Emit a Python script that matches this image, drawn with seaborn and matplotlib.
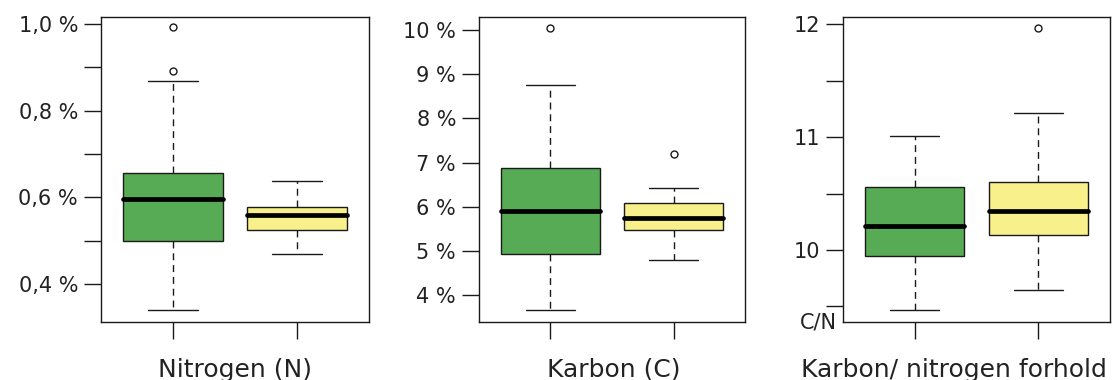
import numpy as np
import pandas as pd
import matplotlib
matplotlib.use("Agg")
import matplotlib.pyplot as plt
import seaborn as sns

# ---- data ----
groups = ["Gruppe 1", "Gruppe 2"]
colors = ["#57ab55", "#f8f08a"]

# five-number summaries: lower whisker, Q1, median, Q3, upper whisker
n_green = [0.340, 0.500, 0.595, 0.656, 0.868]
n_yellow = [0.469, 0.525, 0.560, 0.578, 0.638]
n_green_out = [0.891, 0.992]
n_yellow_out = []

c_green = [3.66, 4.93, 5.91, 6.89, 8.76]
c_yellow = [4.81, 5.48, 5.74, 6.08, 6.42]
c_green_out = [10.05]
c_yellow_out = [7.20]

cn_green = [9.465, 9.947, 10.213, 10.560, 11.010]
cn_yellow = [9.648, 10.130, 10.350, 10.600, 11.210]
cn_green_out = []
cn_yellow_out = [11.97]

n_ticks = [0.4, 0.5, 0.6, 0.7, 0.8, 0.9, 1.0]
n_ticklabels = ["0,4 %", "", "0,6 %", "", "0,8 %", "", "1,0 %"]
c_ticks = [4, 5, 6, 7, 8, 9, 10]
c_ticklabels = ["4 %", "5 %", "6 %", "7 %", "8 %", "9 %", "10 %"]
cn_ticks = [9.5, 10, 10.5, 11, 11.5, 12]
cn_ticklabels = ["", "10", "", "11", "", "12"]

titles = ["Nitrogen (N)", "Karbon (C)", "Karbon/ nitrogen forhold"]

# ---- styling ----
sns.set_theme(style="ticks")
plt.rcParams["font.family"] = ["DejaVu Sans"]

W, H = 1113, 380
fig = plt.figure(figsize=(W / 100, H / 100), dpi=100)
fig.patch.set_facecolor("white")

panels = [
    dict(px=(101, 369), ylim=(0.312, 1.016), g=n_green, y=n_yellow,
         go=n_green_out, yo=n_yellow_out, ticks=n_ticks, labels=n_ticklabels,
         lab_x=235),
    dict(px=(479, 745), ylim=(3.40, 10.29), g=c_green, y=c_yellow,
         go=c_green_out, yo=c_yellow_out, ticks=c_ticks, labels=c_ticklabels,
         lab_x=614),
    dict(px=(843, 1110), ylim=(9.362, 12.065), g=cn_green, y=cn_yellow,
         go=cn_green_out, yo=cn_yellow_out, ticks=cn_ticks, labels=cn_ticklabels,
         lab_x=954),
]

top_px, bot_px = 17, 322
for i, p in enumerate(panels):
    x0, x1 = p["px"]
    ax = fig.add_axes([x0 / W, 1 - bot_px / H, (x1 - x0) / W, (bot_px - top_px) / H])
    df = pd.DataFrame({
        "group": [groups[0]] * len(p["g"]) + [groups[1]] * len(p["y"]),
        "value": p["g"] + p["y"],
    })
    sns.boxplot(
        data=df, x="group", y="value", hue="group", order=groups, hue_order=groups,
        palette=colors, saturation=1, width=0.8, whis=(0, 100), showfliers=False,
        linecolor="#1a1a1a", linewidth=1.0, legend=False, ax=ax,
        whiskerprops=dict(linestyle=(0, (5, 3.5))),
        medianprops=dict(linewidth=3.4, color="black", solid_capstyle="round"),
    )
    odf = pd.DataFrame({
        "group": [groups[0]] * len(p["go"]) + [groups[1]] * len(p["yo"]),
        "value": p["go"] + p["yo"],
    })
    if len(odf):
        sns.stripplot(data=odf, x="group", y="value", order=groups, jitter=False,
                      color="white", edgecolor="#1a1a1a", linewidth=1.0, size=5.0,
                      ax=ax, zorder=5)
    ax.set_xlim(-0.58, 1.58)
    ax.set_ylim(*p["ylim"])
    ax.set_yticks(p["ticks"])
    ax.set_yticklabels(p["labels"])
    ax.set_xticks([0, 1])
    ax.set_xticklabels(["", ""])
    ax.set_ylabel("")
    ax.tick_params(axis="both", direction="out", length=12.5, width=1.0,
                   color="#1a1a1a", labelsize=15, pad=4, labelcolor="#222222",
                   bottom=True, left=True)
    for s in ax.spines.values():
        s.set_visible(True)
        s.set_color("#1a1a1a")
        s.set_linewidth(1.0)
    ax.set_xlabel(titles[i], fontsize=18, color="#222222")
    ax.xaxis.set_label_coords((p["lab_x"] - x0) / (x1 - x0),
                              -(377 - bot_px) / (bot_px - top_px))
    ax.xaxis.label.set_va("baseline")
    if i == 2:
        ax.text(-(843 - 837) / (x1 - x0), 0.0, "C/N", transform=ax.transAxes,
                ha="right", va="center", fontsize=15, color="#222222")

fig.savefig("out.png", dpi=100, facecolor="white")
